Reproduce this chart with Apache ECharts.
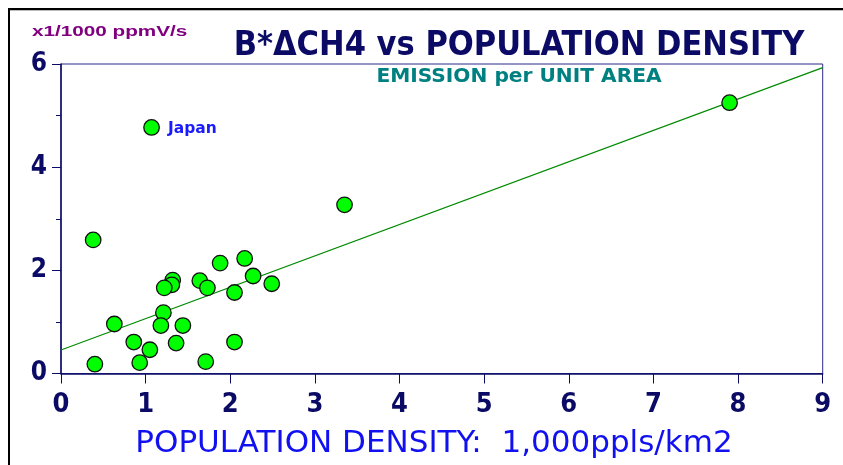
<!DOCTYPE html>
<html>
<head>
<meta charset="utf-8">
<script src="https://cdn.jsdelivr.net/npm/echarts@6/dist/echarts.min.js"></script>
<style>
  html, body { margin: 0; padding: 0; background: #fff; }
  #chart { width: 843px; height: 465px; }
</style>
</head>
<body>
<div id="chart"></div>
<script>
// Population density (1,000 people / km2) vs emission per unit area (x1/1000 ppmV/s)
const density = [0.38, 2.17, 1.88, 2.27, 1.32, 1.31, 1.22, 1.64, 1.73, 2.49, 2.05, 1.21,
                 0.63, 1.18, 1.44, 0.86, 1.36, 2.05, 1.05, 0.40, 0.93, 1.71, 3.35, 7.90];
const emission = [2.59, 2.23, 2.14, 1.89, 1.81, 1.72, 1.66, 1.80, 1.66, 1.74, 1.57, 1.18,
                  0.96, 0.93, 0.93, 0.61, 0.59, 0.61, 0.46, 0.18, 0.21, 0.23, 3.27, 5.25];

// Labelled country
const labelledName = 'Japan';
const labelledPoint = [1.07, 4.77];

// Least-squares fit line endpoints
const fitX = [0, 9];
const fitY = [0.455, 5.93];

const xTicks = [0, 1, 2, 3, 4, 5, 6, 7, 8, 9];
const yTicks = [0, 2, 4, 6];

const NAVY = '#0b0b66';
const narrow = '"DejaVu Sans Condensed", "Liberation Sans", sans-serif';

const points = density.map((d, i) => [d, emission[i]]);
points.push({
  value: labelledPoint,
  label: {
    show: true,
    position: 'right',
    distance: 8,
    offset: [0, 2],
    formatter: labelledName,
    color: '#1a1aff',
    fontWeight: 'bold',
    fontSize: 15.5,
    fontFamily: '"DejaVu Sans", sans-serif'
  }
});

const chart = echarts.init(document.getElementById('chart'), null, { renderer: 'canvas' });

chart.setOption({
  animation: false,
  backgroundColor: '#ffffff',
  grid: {
    left: 61, right: 20.3, top: 64, bottom: 91.5,
    containLabel: false,
    outerBoundsMode: 'none',
    show: true, borderColor: '#2a2a8a', borderWidth: 1, backgroundColor: 'transparent'
  },
  xAxis: {
    type: 'value',
    min: xTicks[0], max: xTicks[xTicks.length - 1], interval: 1,
    axisLine: { show: true, onZero: false, lineStyle: { color: NAVY, width: 1.5 } },
    axisTick: { show: true, inside: false, length: 10, lineStyle: { color: NAVY, width: 1 } },
    splitLine: { show: false },
    axisLabel: {
      margin: 18, color: NAVY, fontSize: 27, fontWeight: 'bold', fontFamily: narrow,
      formatter: v => xTicks.includes(v) ? String(v) : ''
    }
  },
  yAxis: {
    type: 'value',
    min: yTicks[0], max: yTicks[yTicks.length - 1], interval: 2,
    axisLine: { show: true, onZero: false, lineStyle: { color: NAVY, width: 1.5 } },
    axisTick: { show: true, inside: false, length: 9, lineStyle: { color: NAVY, width: 1 } },
    minorTick: { show: true, splitNumber: 2, length: 5, lineStyle: { color: NAVY, width: 1 } },
    splitLine: { show: false },
    axisLabel: {
      margin: 14, color: NAVY, fontSize: 26, fontWeight: 'bold', fontFamily: narrow,
      formatter: v => yTicks.includes(v) ? String(v) : ''
    }
  },
  graphic: [
    // outer frame edges
    { type: 'line', shape: { x1: 8, y1: 9, x2: 843, y2: 9 }, style: { stroke: '#000', lineWidth: 2 }, silent: true },
    { type: 'line', shape: { x1: 8, y1: 10.5, x2: 843, y2: 10.5 }, style: { stroke: '#bbbbbb', lineWidth: 1 }, silent: true },
    { type: 'line', shape: { x1: 9, y1: 8, x2: 9, y2: 465 }, style: { stroke: '#000', lineWidth: 2 }, silent: true },
    {
      type: 'text', x: 32, y: 32, scaleX: 1.38,
      style: { text: 'x1/1000 ppmV/s', fill: '#800080', fontSize: 15, fontWeight: 'bold',
               fontFamily: '"Liberation Sans", Arial, sans-serif', verticalAlign: 'middle' }
    },
    {
      type: 'text', x: 519, y: 46,
      style: { text: 'B*ΔCH4 vs POPULATION DENSITY', fill: NAVY, fontSize: 34, fontWeight: 'bold',
               fontFamily: narrow, align: 'center', verticalAlign: 'middle' }
    },
    {
      type: 'text', x: 519, y: 77, scaleX: 1.18,
      style: { text: 'EMISSION per UNIT AREA', fill: '#008080', fontSize: 19, fontWeight: 'bold',
               fontFamily: narrow, align: 'center', verticalAlign: 'middle' }
    },
    {
      type: 'text', x: 434, y: 444,
      style: { text: 'POPULATION DENSITY:  1,000ppls/km2', fill: '#1010f0', fontSize: 31,
               fontFamily: '"DejaVu Sans", sans-serif', align: 'center', verticalAlign: 'middle' }
    }
  ],
  series: [
    {
      type: 'line',
      data: fitX.map((x, i) => [x, fitY[i]]),
      symbol: 'none',
      lineStyle: { color: '#008a00', width: 1.2 },
      z: 2,
      silent: true
    },
    {
      type: 'scatter',
      data: points,
      symbol: 'circle',
      symbolSize: 15.5,
      itemStyle: { color: '#00ff00', borderColor: '#111', borderWidth: 1.3, opacity: 1 },
      z: 3
    }
  ]
});
</script>
</body>
</html>
